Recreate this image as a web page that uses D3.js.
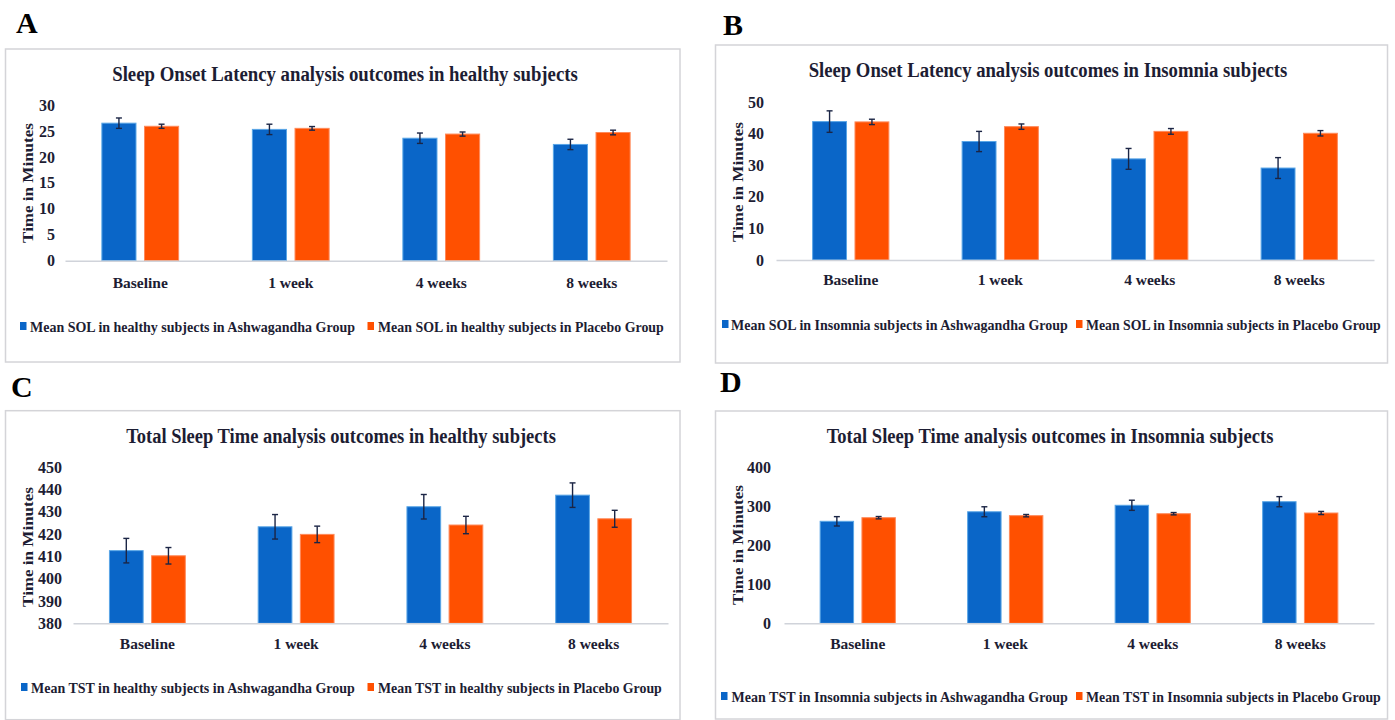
<!DOCTYPE html>
<html><head><meta charset="utf-8">
<script src="https://cdn.jsdelivr.net/npm/d3@7"></script>
<style>
body{margin:0;background:#fff}
svg{display:block}
text{font-family:"Liberation Serif","Times New Roman",serif;font-weight:bold;fill:#1d1d33}
</style>
</head><body>
<svg id="c" width="1395" height="720"></svg>
<script>
// ---------- data ----------
const categories = ["Baseline", "1 week", "4 weeks", "8 weeks"];
const seriesNames = ["Ashwagandha", "Placebo"];

const solHealthyAsh = [26.5, 25.3, 23.6, 22.4];
const solHealthyAshErr = [1.0, 1.0, 1.0, 1.0];
const solHealthyPla = [25.9, 25.5, 24.4, 24.7];
const solHealthyPlaErr = [0.4, 0.35, 0.4, 0.45];

const solInsAsh = [43.8, 37.5, 32.0, 29.1];
const solInsAshErr = [3.4, 3.2, 3.3, 3.3];
const solInsPla = [43.7, 42.2, 40.7, 40.1];
const solInsPlaErr = [0.85, 0.85, 0.9, 0.85];

const tstHealthyAsh = [412.6, 423.3, 432.3, 437.5];
const tstHealthyAshErr = [5.5, 5.5, 5.5, 5.5];
const tstHealthyPla = [410.3, 419.9, 424.1, 426.9];
const tstHealthyPlaErr = [3.7, 3.7, 3.9, 3.8];

const tstInsAsh = [261.5, 286, 302.6, 311.8];
const tstInsAshErr = [12, 12.8, 13, 13];
const tstInsPla = [270.8, 276, 281, 282.8];
const tstInsPlaErr = [3, 3, 3, 4];

const ticksA = [0, 5, 10, 15, 20, 25, 30];
const ticksB = [0, 10, 20, 30, 40, 50];
const ticksC = [380, 390, 400, 410, 420, 430, 440, 450];
const ticksD = [0, 100, 200, 300, 400];

const titles = [
  "Sleep Onset Latency analysis outcomes in healthy subjects",
  "Sleep Onset Latency analysis outcomes in Insomnia subjects",
  "Total Sleep Time analysis outcomes in healthy subjects",
  "Total Sleep Time analysis outcomes in Insomnia subjects"
];
const legendsA = ["Mean SOL in healthy subjects in Ashwagandha Group", "Mean SOL in healthy subjects in Placebo Group"];
const legendsB = ["Mean SOL in Insomnia subjects in Ashwagandha Group", "Mean SOL in Insomnia subjects in Placebo Group"];
const legendsC = ["Mean TST in healthy subjects in Ashwagandha Group", "Mean TST in healthy subjects in Placebo Group"];
const legendsD = ["Mean TST in Insomnia subjects in Ashwagandha Group", "Mean TST in Insomnia subjects in Placebo Group"];
const yTitle = "Time in Minutes";
const letters = ["A", "B", "C", "D"];

// ---------- style ----------
const colors = ["#0a66c8", "#ff5000"];
const strokes = ["#5aa6e6", "#ff8a5a"];

// ---------- layout ----------
const panels = [
  {letter: letters[0], title: titles[0], legend: legendsA, vals: [solHealthyAsh, solHealthyPla], errs: [solHealthyAshErr, solHealthyPlaErr], ticks: ticksA,
   frame: [5.5, 49, 674.5, 313], letterPos: [16, 33], titlePos: [345, 81], titleLen: 466,
   axisX: [65, 667], yRange: [260.7, 105], tickRight: 55, yTitlePos: [33, 183], yTitleLen: 120,
   catY: 288, legendY: 332, legSq: [20, 367.5], legText: [[30, 355], [378, 664]]},
  {letter: letters[1], title: titles[1], legend: legendsB, vals: [solInsAsh, solInsPla], errs: [solInsAshErr, solInsPlaErr], ticks: ticksB,
   frame: [715.5, 45, 672, 318], letterPos: [723, 35], titlePos: [1048, 77], titleLen: 479,
   axisX: [776, 1374], yRange: [260, 102], tickRight: 764, yTitlePos: [743, 182], yTitleLen: 120,
   catY: 285, legendY: 330, legSq: [722, 1076], legText: [[731, 1068], [1086, 1381]]},
  {letter: letters[2], title: titles[2], legend: legendsC, vals: [tstHealthyAsh, tstHealthyPla], errs: [tstHealthyAshErr, tstHealthyPlaErr], ticks: ticksC,
   frame: [5.5, 410.7, 674.5, 309], letterPos: [11, 397], titlePos: [341, 443], titleLen: 430,
   axisX: [73, 668], yRange: [623.3, 467.3], tickRight: 62, yTitlePos: [33, 547], yTitleLen: 120,
   catY: 649, legendY: 693, legSq: [21, 367.5], legText: [[31, 355], [378, 662]]},
  {letter: letters[3], title: titles[3], legend: legendsD, vals: [tstInsAsh, tstInsPla], errs: [tstInsAshErr, tstInsPlaErr], ticks: ticksD,
   frame: [715.5, 411, 672, 308], letterPos: [720, 392], titlePos: [1050, 443], titleLen: 447,
   axisX: [784, 1374], yRange: [623.3, 467.3], tickRight: 771, yTitlePos: [743, 545], yTitleLen: 120,
   catY: 649, legendY: 702, legSq: [721, 1076], legText: [[731.6, 1068], [1086, 1381]]}
];

const svg = d3.select("#c");

// place a text horizontally condensed to a target length via a transform
function fitText(g, str, x, y, size, len, anchor, rotate) {
  const t = g.append("text").attr("font-size", size).attr("text-anchor", anchor || "start").text(str);
  const nat = t.node().getComputedTextLength();
  const sx = len / nat;
  t.attr("transform", `translate(${x},${y})${rotate ? " rotate(-90)" : ""} scale(${sx},1)`);
  return t;
}

panels.forEach(p => {
  const g = svg.append("g");
  // frame
  g.append("rect").attr("x", p.frame[0]).attr("y", p.frame[1]).attr("width", p.frame[2]).attr("height", p.frame[3])
    .attr("fill", "#fff").attr("stroke", "#d4d4d8").attr("stroke-width", 1.5);
  // letter
  g.append("text").attr("x", p.letterPos[0]).attr("y", p.letterPos[1]).attr("font-size", 30).style("fill", "#000").text(p.letter);
  // title
  fitText(g, p.title, p.titlePos[0], p.titlePos[1], 21, p.titleLen, "middle");

  const y = d3.scaleLinear().domain([p.ticks[0], p.ticks[p.ticks.length - 1]]).range(p.yRange);
  const x0 = d3.scaleBand().domain(categories).range(p.axisX).padding(0);
  const bw = x0.bandwidth();
  const x1 = d3.scaleBand().domain(seriesNames).range([bw * 0.245, bw * 0.755]).paddingInner(0.2);

  // y tick labels (axis without line/ticks)
  const yAxis = d3.axisLeft(y).tickValues(p.ticks).tickSize(0).tickPadding(0);
  const ya = g.append("g").attr("transform", `translate(${p.tickRight},0)`).call(yAxis);
  ya.select(".domain").remove();
  ya.selectAll("text").attr("font-size", 16).style("font-family", '"Liberation Serif","Times New Roman",serif').style("font-weight", "bold").style("fill", "#1d1d33");

  // y title
  fitText(g, yTitle, p.yTitlePos[0], p.yTitlePos[1], 14, p.yTitleLen, "middle", true);

  // bars
  seriesNames.forEach((s, si) => {
    g.append("g").selectAll("rect").data(categories).join("rect")
      .attr("x", c => x0(c) + x1(s))
      .attr("width", x1.bandwidth())
      .attr("y", (c, i) => y(p.vals[si][i]))
      .attr("height", (c, i) => y.range()[0] - y(p.vals[si][i]))
      .attr("fill", colors[si]).attr("stroke", strokes[si]).attr("stroke-width", 1);
  });

  // x axis line + labels
  const xAxis = d3.axisBottom(x0).tickSize(0).tickPadding(0);
  const xa = g.append("g").attr("transform", `translate(0,${p.yRange[0]})`).call(xAxis);
  xa.select(".domain").attr("stroke", "#d0d3da").attr("stroke-width", 1.5);
  xa.selectAll("text").attr("y", p.catY - p.yRange[0]).attr("dy", 0).attr("font-size", 15.5)
    .style("font-family", '"Liberation Serif","Times New Roman",serif').style("font-weight", "bold").style("fill", "#1d1d33");

  // error bars
  seriesNames.forEach((s, si) => {
    const eg = g.append("g").attr("stroke", "#1b2545").attr("stroke-width", 1.4);
    categories.forEach((c, i) => {
      const cx = x0(c) + x1(s) + x1.bandwidth() / 2;
      const v = p.vals[si][i], e = p.errs[si][i];
      const yt = y(v + e), yb = y(v - e);
      eg.append("line").attr("x1", cx).attr("x2", cx).attr("y1", yt).attr("y2", yb);
      eg.append("line").attr("x1", cx - 3).attr("x2", cx + 3).attr("y1", yt).attr("y2", yt);
      eg.append("line").attr("x1", cx - 3).attr("x2", cx + 3).attr("y1", yb).attr("y2", yb);
    });
  });

  // legend
  seriesNames.forEach((s, si) => {
    g.append("rect").attr("x", p.legSq[si]).attr("y", p.legendY - 10).attr("width", 6.5).attr("height", 8).attr("fill", colors[si]);
    fitText(g, p.legend[si], p.legText[si][0], p.legendY, 15, p.legText[si][1] - p.legText[si][0], "start");
  });
});
</script>
</body></html>
